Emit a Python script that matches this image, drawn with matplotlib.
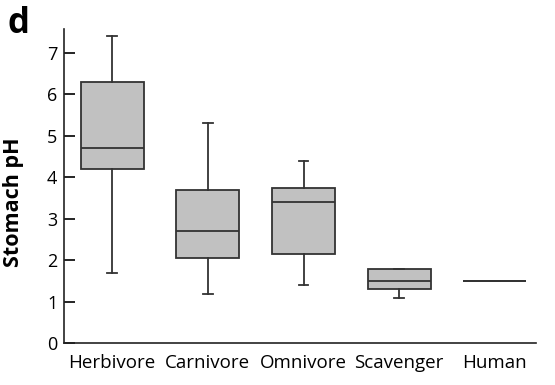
import matplotlib
matplotlib.use('Agg')
import matplotlib.pyplot as plt

categories = ['Herbivore', 'Carnivore', 'Omnivore', 'Scavenger', 'Human']
whisker_low = [1.7, 1.2, 1.4, 1.1, 1.5]
q1 = [4.2, 2.05, 2.15, 1.3, 1.5]
median = [4.7, 2.7, 3.4, 1.5, 1.5]
q3 = [6.3, 3.7, 3.75, 1.8, 1.5]
whisker_high = [7.4, 5.3, 4.4, 1.8, 1.5]

plt.rcParams['font.family'] = ['Open Sans', 'DejaVu Sans']

fig = plt.figure(figsize=(5.55, 3.85), dpi=100)
ax = fig.add_axes([0.1159, 0.1083, 0.8499, 0.8157])

stats = []
for name, lo, a, m, b, hi in zip(categories, whisker_low, q1, median, q3, whisker_high):
    stats.append(dict(label=name, whislo=lo, q1=a, med=m, q3=b, whishi=hi, fliers=[]))

edge = '#333333'
ax.bxp(stats, positions=range(1, 6), widths=0.66, patch_artist=True, showfliers=False,
       boxprops=dict(facecolor='#c1c1c1', edgecolor=edge, linewidth=1.3),
       medianprops=dict(color=edge, linewidth=1.3),
       whiskerprops=dict(color=edge, linewidth=1.3),
       capprops=dict(color=edge, linewidth=1.3),
       capwidths=0.1)

ax.set_xlim(0.5, 5.43)
ax.set_ylim(0, 7.57)
ax.set_yticks(range(0, 8))
ax.tick_params(axis='y', direction='in', length=8, width=1.2, labelsize=13, pad=5)
ax.tick_params(axis='x', length=0, labelsize=13.5, pad=8)
ax.spines['top'].set_visible(False)
ax.spines['right'].set_visible(False)
for s in ('left', 'bottom'):
    ax.spines[s].set_linewidth(1.2)
    ax.spines[s].set_color('#222222')

ax.set_ylabel('Stomach pH', fontsize=15.5, fontweight='bold')
ax.yaxis.set_label_coords(-0.086, 0.45)
fig.text(0.013, 0.985, 'd', fontsize=25, fontweight='bold', va='top', ha='left')

fig.savefig('out.png', dpi=100, facecolor='white')
